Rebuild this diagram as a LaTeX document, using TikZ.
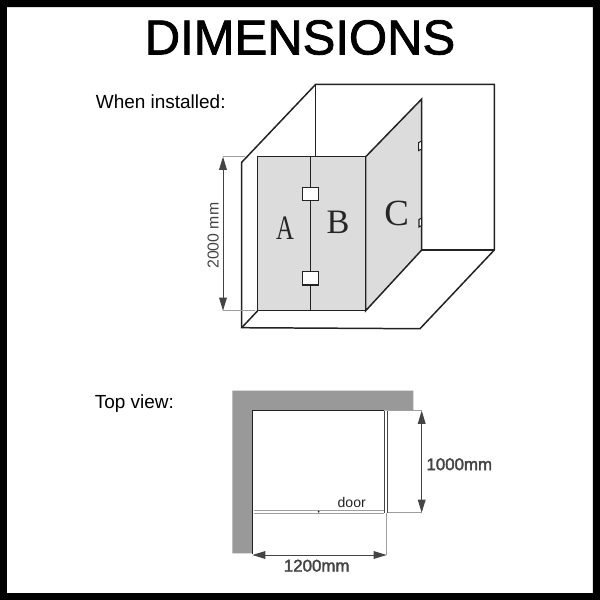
\documentclass[tikz,border=0pt]{standalone}
\usepackage{fontspec}
\setmainfont{Liberation Sans}
\newfontfamily\letterfont{Liberation Serif}
\newfontfamily\titlefont[FakeBold=1.6]{Liberation Sans}
\newfontfamily\dimfont[FakeBold=2.2]{Liberation Sans}
\usetikzlibrary{arrows.meta}
\definecolor{glass}{HTML}{DCDCDC}
\definecolor{wallgray}{HTML}{999999}
\definecolor{inkdark}{HTML}{222222}
\definecolor{dimdark}{HTML}{444444}
\newcommand{\pxfont}[1]{\fontsize{#1}{#1}\selectfont}
\tikzset{
  plan/.style={line width=0.85pt,draw=inkdark,line join=miter},
  thin plan/.style={line width=0.6pt,draw=dimdark},
  panel/.style={plan,fill=glass},
  hinge/.style={line width=0.6pt,draw=inkdark,fill=white},
  ext/.style={line width=0.35pt,draw=black!38},
  dimline/.style={line width=0.55pt,draw=dimdark,{Triangle[length=7.5pt,width=4.4pt,fill=dimdark]}-{Triangle[length=7.5pt,width=4.4pt,fill=dimdark]}},
  txt/.style={inner sep=0pt,text=black,font=\pxfont{10.8pt}},
  panel letter/.style={inner sep=0pt,text=black!85,font=\letterfont\pxfont{19.5pt}},
  dimbold/.style={inner sep=0pt,text=dimdark,font=\dimfont\pxfont{9.6pt}}
}
\begin{document}
\begin{tikzpicture}[x=0.02cm,y=-0.02cm]
\useasboundingbox (0,0) rectangle (600,600);
% frame
\fill[black,even odd rule] (0,0) rectangle (600,600) (7,7) rectangle (593,593);
% title and captions
\node[inner sep=0pt,font=\titlefont\pxfont{27.9pt}] (title) at (300,37.5) {DIMENSIONS};
\node[txt,anchor=west] (installed) at (95.5,102) {When installed:};
\node[txt,anchor=west] (topview) at (94.5,404) {Top view:};
% room corners
\coordinate (backTL) at (315.7,84.3);
\coordinate (backTR) at (494.3,84.3);
\coordinate (backBR) at (494.3,250);
\coordinate (backBM) at (421.7,250);
\coordinate (backLB) at (315.7,156.7);
\coordinate (frontT) at (241.7,162.3);
\coordinate (frontB) at (241.7,327.7);
\coordinate (floorR) at (420,328.7);
% glass corners
\coordinate (abTL) at (257.7,156.7);
\coordinate (abTM) at (310.3,156.7);
\coordinate (abTR) at (365.7,156.7);
\coordinate (abBL) at (257.7,310.7);
\coordinate (abBM) at (310.3,310.7);
\coordinate (abBR) at (365.7,310.7);
\coordinate (cT) at (421.7,99);
\coordinate (cB) at (421.7,250);
% room
\draw[plan] (frontT) -- (backTL) -- (backTR) -- (backBR) -- (floorR) -- (frontB) -- cycle;
\draw[plan] (backTL) -- (backLB);
\draw[plan] (backBM) -- (backBR);
\draw[plan] (frontB) -- (abBL);
% glass
\draw[panel] (abTR) -- (cT) -- (cB) -- (abBR) -- cycle;
\draw[panel] (abTL) rectangle (abBR);
\draw[plan] (abTM) -- (abBM);
% hinges
\draw[hinge] (302.7,187.3) rectangle (318.3,200.7);
\draw[hinge] (302.7,271.3) rectangle (318.3,285);
\draw[hinge] (418.7,142.5) -- (421.7,141) -- (421.7,149) -- (418.7,150.5) -- cycle;
\draw[hinge] (419,219.5) -- (421.7,218) -- (421.7,225.5) -- (419,227) -- cycle;
% letters
\node[panel letter,xscale=0.72,transform shape] (A) at (285,228) {A};
\node[panel letter] (B) at (338,222.7) {B};
\node[panel letter,font=\letterfont\pxfont{21pt}] (C) at (396.7,213) {C};
% height dimension
\coordinate (hT) at (223,156.7);
\coordinate (hB) at (223,310.7);
\coordinate (hTe) at (245,156.7);
\coordinate (hBe) at (255,310.7);
\draw[ext] (hT) -- (hTe);
\draw[ext] (hB) -- (hBe);
\draw[dimline] (hT) -- (hB);
\node[inner sep=0pt,text=dimdark,font=\pxfont{9pt},rotate=90] (h) at (213.3,235.7) {2000 mm};
% top view
\fill[wallgray] (232.3,390.7) -- (413.3,390.7) -- (413.3,410.7) -- (252.3,410.7) -- (252.3,553.3) -- (232.3,553.3) -- cycle;
\coordinate (inTL) at (252.3,410.7);
\coordinate (inBL) at (252.3,554);
\coordinate (inTR) at (384.3,410.7);
\coordinate (dT1) at (384.3,410.7);
\coordinate (dB1) at (384.3,512.7);
\coordinate (dT2) at (387.7,410.7);
\coordinate (dB2) at (387.7,512.7);
\coordinate (doorL) at (254.3,510.5);
\coordinate (doorR) at (384.3,510.5);
\coordinate (doorL2) at (254.3,513);
\coordinate (doorR2) at (384.3,513);
\coordinate (wT) at (421.7,410.7);
\coordinate (wB) at (421.7,512.7);
\coordinate (lL) at (252.3,555);
\coordinate (lR) at (386.7,555);
\draw[plan] (inBL) -- (inTL) -- (inTR);
\draw[thin plan] (dT1) -- (dB1);
\draw[thin plan] (dT2) -- (dB2);
\draw[ext] (dT2) -- (wT);
\draw[ext] (dB2) -- (wB);
\draw[ext] (386.7,512.7) -- (lR);
\draw[ext] (doorL) -- (doorR);
\draw[ext] (doorL2) -- (doorR2);
\fill[inkdark] (318.7,511.7) circle (1);
\draw[dimline] (wT) -- (wB);
\draw[dimline] (lL) -- (lR);
\node[inner sep=0pt,text=inkdark,font=\pxfont{8pt}] (door) at (351.7,502.7) {door};
\node[dimbold] (w) at (459.3,464.3) {1000mm};
\node[dimbold] (l) at (316.7,565.7) {1200mm};
\end{tikzpicture}
\end{document}
